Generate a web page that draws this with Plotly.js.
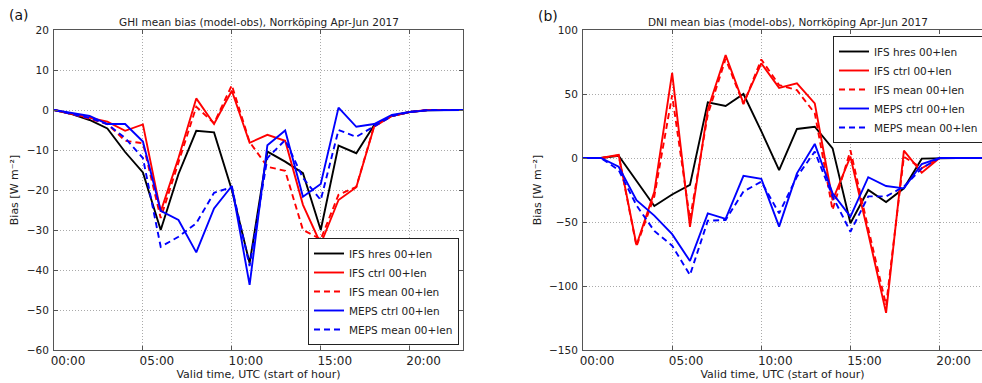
<!DOCTYPE html>
<html><head><meta charset="utf-8">
<script src="https://cdn.plot.ly/plotly-3.0.1.min.js"></script>
<style>html,body{margin:0;padding:0;overflow:hidden;background:#fff}</style>
</head><body><div id="chart" style="width:982px;height:383px"></div>
<script>
// Hours of day (valid time, UTC start of hour)
const hours = [0,1,2,3,4,5,6,7,8,9,10,11,12,13,14,15,16,17,18,19,20,21,22,23];
const hourTickVals = [0,5,10,15,20];
const hourTickText = ['00:00','05:00','10:00','15:00','20:00'];
const seriesNames = ['IFS hres 00+len','IFS ctrl 00+len','IFS mean 00+len','MEPS ctrl 00+len','MEPS mean 00+len'];

// (a) GHI mean bias [W m-2]
const ghiIfsHres  = [0,-1,-2.5,-4.6,-10.5,-15.6,-30,-16,-5.2,-5.6,-20,-38.3,-10.4,-12.9,-15.8,-30,-8.9,-10.8,-3.8,-1.5,-0.5,-0.1,0,0];
const ghiIfsCtrl  = [0,-1,-2,-2.9,-5.2,-3.6,-25.4,-12,2.9,-3.5,4.8,-8.2,-6.2,-7.7,-23.7,-33.5,-22.5,-19.3,-4.2,-1.5,-0.5,0,0,0];
const ghiIfsMean  = [0,-1,-2.2,-3.5,-7.7,-8.3,-27,-13,0.8,-3.3,6.2,-8,-14.2,-15.2,-30,-32.3,-21.2,-19.2,-4,-1.5,-0.5,0,0,0];
const ghiMepsCtrl = [0,-0.8,-1.5,-3.5,-3.5,-7.9,-25.2,-27.5,-35.6,-24.6,-19,-43.7,-8.8,-5.1,-21.7,-18.5,0.6,-4.2,-3.5,-1.2,-0.5,-0.1,0,0];
const ghiMepsMean = [0,-1,-2,-3.5,-7,-12,-34.2,-31.7,-28.3,-20.7,-19.3,-39,-12,-7.5,-17,-22.5,-5,-6.7,-4,-1.5,-0.5,0,0,0];

// (b) DNI mean bias [W m-2]
const dniIfsHres  = [0,0,1.8,-17.7,-37.5,-28.5,-21,43.5,40.6,50,21,-9.4,22.7,24.4,7.5,-51,-25,-34.4,-23.7,-0.5,0,0,0,0];
const dniIfsCtrl  = [0,0,2.5,-68,-26.5,66.5,-53.8,38,80.5,42.7,74,54.8,58.3,42.7,-33,1,-59,-121,5.7,-11.5,0,0,0,0];
const dniIfsMean  = [0,0,2,-69,-30,49,-48,34,77.5,42,77,57,53,35,-40.6,6,-55,-115,1,-8,0,0,0,0];
const dniMepsCtrl = [0,0,-6.8,-33,-45,-59.5,-80.5,-43.2,-47.5,-14,-16.2,-53.6,-12,11,-27.6,-45.8,-15,-21.9,-23.7,-4.7,0,0,0,0];
const dniMepsMean = [0,0,-9.4,-37,-57,-68.5,-91.4,-49,-48.4,-26.2,-18.5,-43.2,-14.6,5,-30,-57.6,-30,-30,-22.4,-8,0,0,0,0];

const colors = ['#000000','#ff0000','#ff0000','#0000ff','#0000ff'];
const dashes = ['solid','solid','6px,4px','solid','6px,4px'];
const ghiSeries = [ghiIfsHres, ghiIfsCtrl, ghiIfsMean, ghiMepsCtrl, ghiMepsMean];
const dniSeries = [dniIfsHres, dniIfsCtrl, dniIfsMean, dniMepsCtrl, dniMepsMean];

const traces = [];
ghiSeries.forEach((ys, i) => traces.push({
  type: 'scatter', mode: 'lines', x: hours, y: ys, name: seriesNames[i],
  xaxis: 'x', yaxis: 'y', legend: 'legend',
  line: {color: colors[i], width: 1.9, dash: dashes[i]}
}));
dniSeries.forEach((ys, i) => traces.push({
  type: 'scatter', mode: 'lines', x: hours, y: ys, name: seriesNames[i],
  xaxis: 'x2', yaxis: 'y2', legend: 'legend2',
  line: {color: colors[i], width: 1.9, dash: dashes[i]}
}));

const FONT = 'DejaVu Sans, Verdana, sans-serif';
const axisCommon = {
  showline: true, linecolor: '#555', linewidth: 1,
  ticks: 'inside', ticklen: 4, tickcolor: '#555',
  showgrid: true, gridcolor: '#aaaaaa', griddash: '1px,2px', gridwidth: 1,
  zeroline: false, automargin: false
};
const xCommon = Object.assign({}, axisCommon, {
  tickmode: 'array', tickvals: hourTickVals, ticktext: hourTickText,
  tickfont: {size: 12, color: '#222'}, ticklabelshift: 14,
  title: {text: 'Valid time, UTC (start of hour)', font: {size: 11, color: '#222'}, standoff: 2}
});
const yCommon = Object.assign({}, axisCommon, {
  tickfont: {size: 10.5, color: '#222'}, ticklabelstandoff: 2,
  title: {text: 'Bias [W m⁻²]', font: {size: 11, color: '#222'}, standoff: 5}
});

const yDom = [1 - 350/383, 1 - 30/383];
const layout = {
  width: 982, height: 383,
  margin: {l: 0, r: 0, t: 0, b: 0, autoexpand: false},
  paper_bgcolor: '#fff', plot_bgcolor: '#fff',
  font: {family: FONT, color: '#222'},
  showlegend: true,
  xaxis: Object.assign({}, xCommon, {domain: [54/982, 463/982], range: [0, 23], anchor: 'y', mirror: 'ticks'}),
  yaxis: Object.assign({}, yCommon, {domain: yDom, range: [-60, 20], dtick: 10, anchor: 'x', mirror: 'ticks'}),
  xaxis2: Object.assign({}, xCommon, {domain: [583/982, 1], range: [0, 22.38], anchor: 'y2', mirror: 'ticks'}),
  yaxis2: Object.assign({}, yCommon, {domain: yDom, range: [-150, 100], dtick: 50, anchor: 'x2', mirror: false}),
  legend: {x: 459/982, xanchor: 'right', y: 1 - 345/383, yanchor: 'bottom',
    bgcolor: '#fff', bordercolor: '#222', borderwidth: 1, font: {size: 10.5, color: '#222'}},
  legend2: {x: 833/982, xanchor: 'left', y: 1 - 36/383, yanchor: 'top',
    bgcolor: '#fff', bordercolor: '#222', borderwidth: 1, font: {size: 10.5, color: '#222'}},
  annotations: [
    {text: 'GHI mean bias (model-obs), Norrköping Apr-Jun 2017', xref: 'x domain', x: 0.5, yref: 'paper', y: 1 - 22/383,
     xanchor: 'center', yanchor: 'middle', showarrow: false, font: {size: 10.5, color: '#222'}},
    {text: 'DNI mean bias (model-obs), Norrköping Apr-Jun 2017', xref: 'paper', x: (583 + 205)/982, yref: 'paper', y: 1 - 22/383,
     xanchor: 'center', yanchor: 'middle', showarrow: false, font: {size: 10.5, color: '#222'}},
    {text: '(a)', xref: 'paper', x: 7/982, yref: 'paper', y: 1 - 15/383, xanchor: 'left', yanchor: 'middle',
     showarrow: false, font: {size: 14, color: '#111'}},
    {text: '(b)', xref: 'paper', x: 536/982, yref: 'paper', y: 1 - 16/383, xanchor: 'left', yanchor: 'middle',
     showarrow: false, font: {size: 14, color: '#111'}}
  ]
};

Plotly.newPlot('chart', traces, layout, {staticPlot: true, displayModeBar: false});
</script></body></html>
